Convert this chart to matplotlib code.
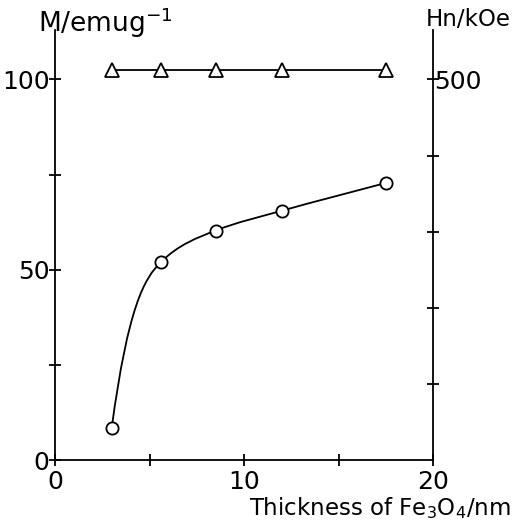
"""Magnetization and hyperfine field vs Fe3O4 thickness."""

import matplotlib

matplotlib.use("Agg")
import matplotlib.pyplot as plt
from matplotlib.path import Path
from matplotlib.patches import PathPatch

# data
thickness = [3.0, 5.6, 8.5, 12.0, 17.5]
magnetization = [8.4, 52.0, 60.3, 65.5, 72.8]
hn_field = [512, 512, 512, 512, 512]

x_ticks = [0, 5, 10, 15, 20]
x_labels = ["0", "", "10", "", "20"]
m_ticks = [0, 25, 50, 75, 100]
m_labels = ["0", "", "50", "", "100"]
hn_ticks = [100, 200, 300, 400, 500]
hn_labels = ["", "", "", "", "500"]

FONT = "DejaVu Sans"
FS = 18
LW = 1.3


def smooth_path(xs, ys):
    # hand-drawn looking curve: monotone hermite pieces as bezier segments
    n = len(xs)
    h = [xs[i + 1] - xs[i] for i in range(n - 1)]
    d = [(ys[i + 1] - ys[i]) / h[i] for i in range(n - 1)]
    m = [0.0] * n
    for i in range(1, n - 1):
        m[i] = 2 * d[i - 1] * d[i] / (d[i - 1] + d[i])
    m[0] = 2.5 * d[0] - m[1]
    m[-1] = d[-1]
    verts = [(xs[0], ys[0])]
    codes = [Path.MOVETO]
    for i in range(n - 1):
        verts += [(xs[i] + h[i] / 3, ys[i] + m[i] * h[i] / 3),
                  (xs[i + 1] - h[i] / 3, ys[i + 1] - m[i + 1] * h[i] / 3),
                  (xs[i + 1], ys[i + 1])]
        codes += [Path.CURVE4] * 3
    return Path(verts, codes)


def main() -> None:
    plt.rcParams["font.family"] = FONT
    fig = plt.figure(figsize=(5.13, 5.22), dpi=100)
    ax = fig.add_axes([55 / 513, 62 / 522, 378 / 513, 430 / 522])
    ax2 = ax.twinx()

    ax.set_xlim(0, 20)
    ax.set_ylim(0, 113)
    ax2.set_ylim(0, 565)

    ax.add_patch(PathPatch(smooth_path(thickness, magnetization),
                           facecolor="none", edgecolor="black", lw=LW, zorder=2))
    ax.plot(thickness, magnetization, ls="none", marker="o", ms=8.8,
            mfc="white", mec="black", mew=LW, zorder=3, clip_on=False)
    ax2.plot(thickness, hn_field, color="black", lw=LW, marker="^", ms=10.5,
             mfc="white", mec="black", mew=LW, zorder=3, clip_on=False)

    for a in (ax, ax2):
        a.spines["top"].set_visible(False)
        for s in a.spines.values():
            s.set_linewidth(LW)
    ax.spines["right"].set_visible(False)
    ax2.spines["left"].set_visible(False)
    ax2.spines["bottom"].set_visible(False)

    ax.set_xticks(x_ticks, x_labels)
    ax.set_yticks(m_ticks, m_labels)
    ax2.set_yticks(hn_ticks, hn_labels)
    ax.tick_params(direction="inout", length=8, width=LW, labelsize=FS, pad=0)
    ax.tick_params(axis="x", pad=3)
    ax2.tick_params(direction="inout", length=8, width=LW, labelsize=FS, pad=-3)

    fig.text(38 / 513, 1 - 23 / 522, "M/emug$^{-1}$", fontsize=19,
             ha="left", va="center")
    fig.text(511 / 513, 1 - 19 / 522, "Hn/kOe", fontsize=16.5,
             ha="right", va="center")
    fig.text(511 / 513, 1 - 508 / 522, "Thickness of Fe$_3$O$_4$/nm",
             fontsize=16.5, ha="right", va="center")

    fig.savefig("out.png", dpi=100)


if __name__ == "__main__":
    main()
